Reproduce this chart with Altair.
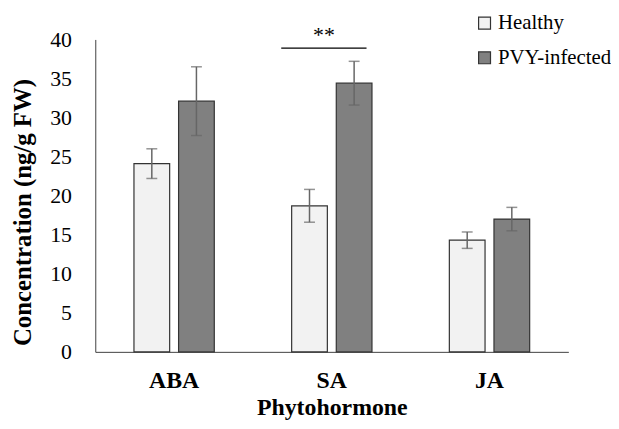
import altair as alt
import pandas as pd

hormones = ["ABA", "SA", "JA"]
groups = ["Healthy", "PVY-infected"]
healthy = [24.1, 18.7, 14.3]
healthy_err = [1.9, 2.1, 1.05]
pvy = [32.1, 34.4, 17.0]
pvy_err = [4.4, 2.8, 1.5]
sig_label = "**"
sig_level = 38.9
sig_hormone = "SA"

rows = []
for i, h in enumerate(hormones):
    rows.append({"hormone": h, "group": groups[0], "value": healthy[i],
                 "lo": healthy[i] - healthy_err[i], "hi": healthy[i] + healthy_err[i]})
    rows.append({"hormone": h, "group": groups[1], "value": pvy[i],
                 "lo": pvy[i] - pvy_err[i], "hi": pvy[i] + pvy_err[i]})
df = pd.DataFrame(rows)
sig_df = pd.DataFrame({"hormone": [sig_hormone], "y": [sig_level], "label": [sig_label]})

FONT = "Liberation Serif"

x_axis = alt.Axis(title="Phytohormone", labelAngle=0, ticks=False,
                  labelFont=FONT, labelFontSize=24, labelFontWeight="bold",
                  labelColor="black", labelPadding=17,
                  titleFont=FONT, titleFontSize=24, titleFontWeight="bold",
                  titleColor="black", titleBaseline="alphabetic", titleY=63,
                  domainColor="#404040", domainWidth=1)
y_axis = alt.Axis(title="Concentration (ng/g FW)", values=list(range(0, 41, 5)),
                  grid=False, ticks=False, labelOverlap=False,
                  labelFont=FONT, labelFontSize=22,
                  labelColor="black", labelPadding=24,
                  titleFont=FONT, titleFontSize=25, titleFontWeight="bold",
                  titleColor="black", titleBaseline="alphabetic",
                  titleX=-65, titleY=174, titleAngle=270,
                  domainColor="#404040", domainWidth=1)
x_scale = alt.Scale(paddingInner=0, paddingOuter=0)
y_scale = alt.Scale(domain=[0, 40], nice=False)

def xenc(**kw):
    return alt.X("hormone:N", sort=hormones, scale=x_scale, axis=x_axis, title="Phytohormone", **kw)

def yenc(field):
    return alt.Y(field, scale=y_scale, axis=y_axis, title="Concentration (ng/g FW)")

xoff = alt.XOffset("group:N", sort=groups,
                   scale=alt.Scale(paddingInner=0.2, paddingOuter=0.867))

bars = alt.Chart(df).mark_bar(stroke="#333333", strokeWidth=1.2).encode(
    x=xenc(),
    xOffset=xoff,
    y=yenc("value:Q"),
    color=alt.Color("group:N", sort=groups,
                    scale=alt.Scale(domain=groups, range=["#f2f2f2", "#808080"]),
                    legend=alt.Legend(title=None, orient="none", legendX=382, legendY=-27,
                                      symbolType="square", symbolSize=144,
                                      symbolStrokeColor="#333333", symbolStrokeWidth=1.2,
                                      labelFont=FONT, labelFontSize=21, labelColor="black",
                                      rowPadding=13, labelOffset=3)),
)

err = alt.Chart(df).mark_rule(color="#666666", strokeWidth=1.5).encode(
    x=xenc(),
    xOffset=xoff,
    y=yenc("lo:Q"),
    y2="hi:Q",
)
caps_lo = alt.Chart(df).mark_tick(color="#666666", thickness=1.5, size=11, orient="horizontal").encode(
    x=xenc(),
    xOffset=xoff,
    y=yenc("lo:Q"),
)
caps_hi = alt.Chart(df).mark_tick(color="#666666", thickness=1.5, size=11, orient="horizontal").encode(
    x=xenc(),
    xOffset=xoff,
    y=yenc("hi:Q"),
)

sig_line = alt.Chart(sig_df).mark_rule(color="black", strokeWidth=1.2, xOffset=-51, x2Offset=35).encode(
    x=xenc(bandPosition=0.5),
    x2=alt.X2("hormone"),
    y=yenc("y:Q"),
)
sig_text = alt.Chart(sig_df).mark_text(font=FONT, fontSize=22, color="black", dx=-8, dy=-1,
                                        baseline="bottom").encode(
    x=xenc(bandPosition=0.5),
    y=yenc("y:Q"),
    text="label:N",
)

chart = alt.layer(bars, err, caps_lo, caps_hi, sig_line, sig_text).properties(
    width=477, height=315,
    autosize=alt.AutoSizeParams(type="none"),
    padding={"left": 88, "top": 30, "right": 43, "bottom": 68},
).configure(background="white").configure_view(strokeWidth=0)

chart.save("out.html", embed_options={"renderer": "svg", "actions": False})
